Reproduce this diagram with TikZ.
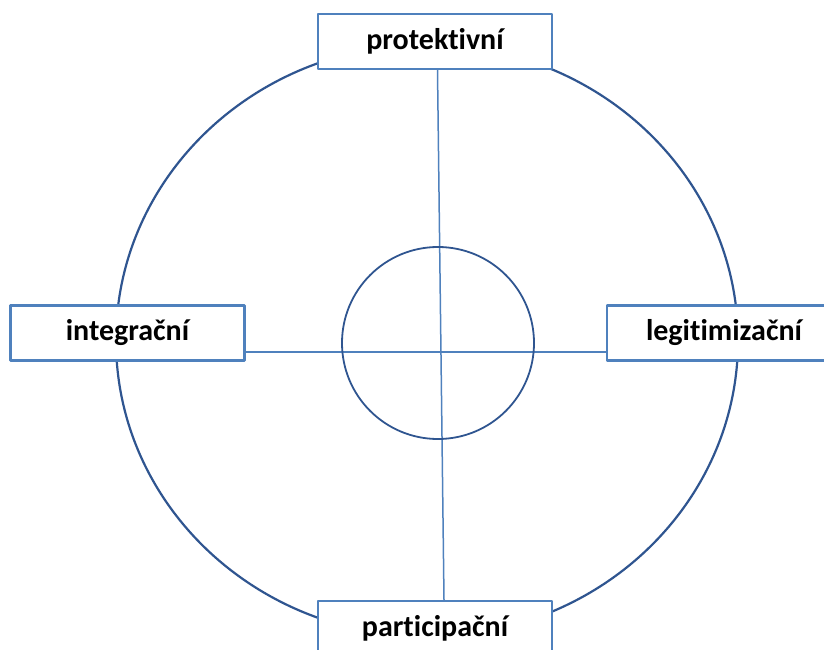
\documentclass[tikz,border=0pt]{standalone}
\usepackage{fontspec}
\setmainfont{Carlito}[Ligatures=CommonOff]
\definecolor{boxblue}{HTML}{4F81BD}
\definecolor{ringblue}{HTML}{2F5590}
\begin{document}
\begin{tikzpicture}[x=1pt, y=-1pt, font=\bfseries\fontsize{30}{34}\selectfont, line join=round, line cap=round,
	role/.style={draw=boxblue, line width=2.4pt, fill=white, minimum width=234pt, minimum height=55pt, inner sep=0pt},
	axis/.style={draw=boxblue, line width=1.5pt},
	ring/.style={draw=ringblue, line width=2.2pt}]
	\useasboundingbox (0,0) rectangle (824,650);
	\coordinate (O) at (427,340.5);
	\coordinate (M) at (438,343);
	\draw[ring] (O) ellipse [x radius=311, y radius=296];
	\node[role] (prot) at (435,41.5) {protektivní};
	\node[role] (integ) at (127.5,333) {integrační};
	\node[role] (legit) at (724,333) {legitimizační};
	\node[role] (part) at (435,628.5) {participační};
	\draw[axis] ([xshift=2.5pt]prot.south) -- ([xshift=9pt]part.north);
	\draw[axis] ([yshift=-19pt]integ.east) -- ([yshift=-19pt]legit.west);
	\draw[ring, line width=1.8pt] (M) circle (96);
\end{tikzpicture}
\end{document}
